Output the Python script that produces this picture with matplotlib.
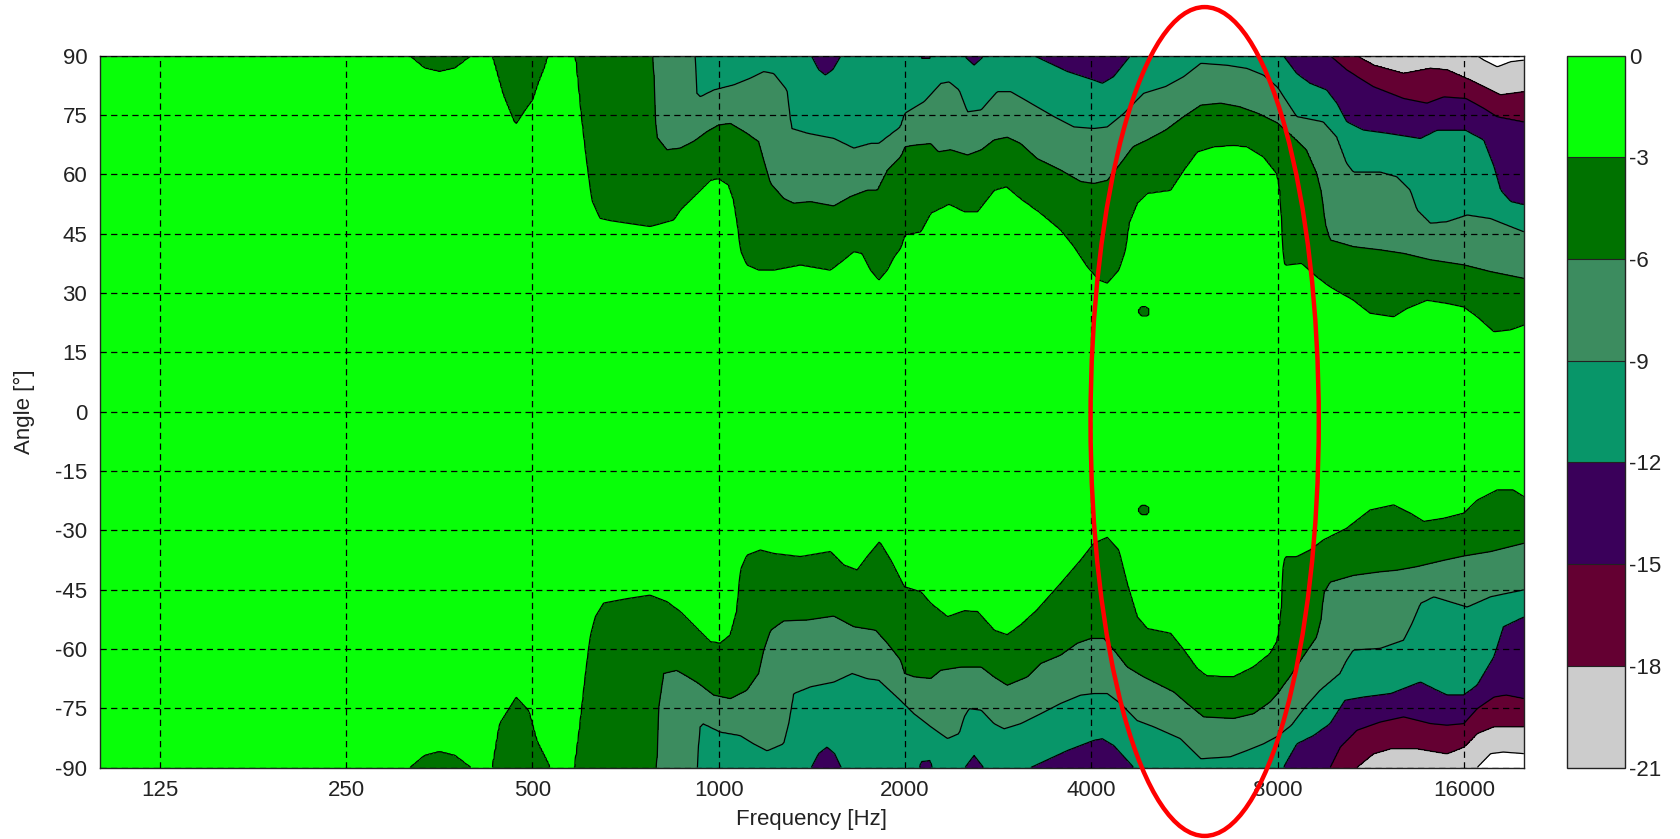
import numpy as np
import matplotlib
matplotlib.use('Agg')
import matplotlib.pyplot as plt
import matplotlib.cm as cm
from matplotlib.colors import ListedColormap, BoundaryNorm
from matplotlib.patches import Ellipse
from matplotlib.ticker import NullLocator

plt.rcParams['font.family'] = ['Liberation Sans', 'DejaVu Sans']
plt.rcParams['axes.unicode_minus'] = False

# dB levels and the fill colour of each band (lowest band first)
levels = [-21, -18, -15, -12, -9, -6, -3, 0]
band_colors = ['#cccccc', '#640032', '#3a005a', '#089669', '#3c8c5f', '#007200', '#08ff08']
below_color = '#ffffff'

freq_ticks = [125, 250, 500, 1000, 2000, 4000, 8000, 16000]
angle_ticks = list(range(-90, 91, 15))

# where each contour line lies: (frequency [Hz], angle [deg])
# an angle past +-90 means that contour does not reach the plot there
upper_3 = [(100, 96), (300, 96), (315, 90.5), (335, 87), (354, 86.1), (375, 87), (401, 90.5),
           (420, 95), (431, 90.5), (450, 80), (470, 72.7), (490, 77), (500, 78.8), (510, 83),
           (522, 87), (530, 90.5), (545, 95), (580, 95), (590, 88), (601, 74.6), (612, 63.6),
           (624, 53.5), (643, 48.9), (668, 48.3), (715, 47.6), (775, 46.8), (846, 48.5),
           (867, 51), (934, 56), (969, 58.5), (1000, 59), (1038, 57.3), (1058, 53.5),
           (1078, 45), (1084, 40.9), (1111, 37.1), (1161, 35.8), (1228, 35.8), (1356, 37.1),
           (1516, 35.8), (1593, 38.4), (1654, 40.5), (1706, 40), (1760, 35.8), (1815, 33.3),
           (1873, 35.8), (1922, 39.2), (1968, 41.3), (2000, 44.7), (2122, 45.5), (2202, 50.2),
           (2358, 52.5), (2494, 50.6), (2619, 50.6), (2787, 56), (2920, 56.9), (3076, 53.9),
           (3315, 50.2), (3569, 46), (3750, 41.8), (3941, 36.7), (4116, 33.3), (4246, 32.5),
           (4432, 35.8), (4544, 40.9), (4601, 47.6), (4744, 52.7), (4925, 55.2), (5370, 56),
           (5642, 61.1), (5929, 65.7), (6307, 67), (6793, 67.4), (7139, 67), (7594, 64.5),
           (8000, 60), (8100, 54), (8130, 46), (8170, 40), (8220, 37), (8750, 37.5),
           (9257, 34.1), (9725, 31.6), (10610, 28.2), (11290, 24.9), (12320, 24), (12950, 26.1),
           (13950, 28.2), (15030, 27.4), (16000, 26.5), (16820, 24), (17900, 20.2),
           (19040, 20.7), (20000, 21.9)]
upper_6 = [(100, 99), (770, 99), (785, 90.5), (790, 74.6), (794, 69.5), (825, 66.2), (867, 66.6),
           (911, 68.3), (957, 70.8), (1000, 72.5), (1045, 72.9), (1111, 70.4), (1161, 68.3),
           (1183, 63.6), (1213, 57.7), (1274, 53.9), (1322, 52.7), (1407, 53.1), (1535, 52),
           (1634, 54.4), (1738, 56), (1804, 56), (1873, 61.1), (1968, 64.5), (2000, 67),
           (2070, 67.4), (2202, 67.8), (2265, 65.7), (2371, 66.2), (2524, 64.9), (2657, 66.2),
           (2787, 68.7), (2926, 69.4), (3076, 67.8), (3270, 64), (3569, 61.1), (3846, 58.2),
           (4040, 57.7), (4246, 58.5), (4460, 62.8), (4673, 67), (4925, 68.7), (5275, 71.2),
           (5642, 74.6), (6015, 77.5), (6475, 78), (6945, 77.1), (7443, 75.4), (8000, 73),
           (8481, 69.5), (8915, 66.2), (9257, 60.3), (9428, 55.2), (9548, 47.6), (9725, 43.4),
           (10610, 41.7), (11720, 40.9), (12790, 40), (14130, 38.4), (16000, 37.1),
           (17680, 35.4), (20000, 33.7)]
upper_9 = [(100, 102), (905, 102), (916, 91), (922, 80.5), (934, 79.6), (982, 81.3), (1058, 82.6),
           (1125, 84.3), (1183, 86), (1228, 85.5), (1290, 81.3), (1311, 71.6), (1390, 70.4),
           (1535, 69.1), (1654, 66.6), (1760, 67.8), (1815, 67.8), (1968, 72), (2000, 75.4),
           (2149, 78.4), (2286, 83), (2358, 83.4), (2448, 81.3), (2524, 75.8), (2657, 76.3),
           (2820, 80.9), (2965, 80.9), (3193, 78), (3482, 74.6), (3750, 72), (4040, 71.6),
           (4246, 72), (4516, 75.4), (4864, 80.5), (5275, 82.2), (5642, 84.7), (6015, 88.1),
           (6630, 87.6), (7139, 86.8), (7594, 85.1), (8000, 82), (8587, 74.6), (9486, 73.3),
           (9974, 69.5), (10350, 62.8), (10610, 60.6), (11720, 60.6), (12470, 59.4),
           (13110, 56), (13440, 51), (14130, 47.6), (15030, 48), (16200, 49.7), (17680, 48.8),
           (20000, 45.5)]
upper_12 = [(100, 105), (1380, 105), (1407, 90.5), (1450, 86.5), (1488, 85.1), (1530, 86.5),
            (1583, 90.5), (1620, 95), (2100, 95), (2130, 89.3), (2200, 89.3), (2230, 95),
            (2450, 95), (2509, 89.5), (2587, 87.6), (2668, 89.5), (2720, 95), (3150, 95),
            (3233, 90), (3659, 86), (4040, 83.8), (4167, 83), (4350, 84.7), (4630, 90),
            (4700, 95), (8100, 95), (8171, 90), (8587, 85.5), (9027, 83), (9605, 81.3),
            (9974, 78), (10350, 73.3), (11010, 71.2), (12020, 70.4), (13610, 69.1),
            (14480, 71.2), (16100, 71.2), (17240, 68.7), (17900, 62), (18340, 56),
            (19040, 53.1), (20000, 52.3)]
upper_15 = [(100, 108), (9600, 108), (9725, 90), (10350, 86.4), (11430, 82.2), (12790, 79.2),
            (13950, 78), (14850, 79.6), (16130, 79.2), (17240, 76.7), (18120, 74.6), (20000, 73.3)]
upper_18 = [(100, 111), (10600, 111), (10740, 90), (11430, 87.6), (12790, 85.5), (14130, 86.8),
            (15030, 86.4), (16400, 83.8), (17240, 82.2), (18340, 80.1), (20000, 80.9)]
upper_21 = [(100, 114), (16600, 114), (16820, 90), (17240, 88.9), (18120, 87.2), (19040, 88.5),
            (20000, 88.9)]

lower_3 = [(100, -96), (300, -96), (315, -90.5), (335, -87), (354, -86), (375, -87), (401, -90.5),
           (420, -95), (431, -90.5), (443, -79), (471, -72.3), (493, -75.6), (508, -83.2),
           (530, -89), (545, -95), (575, -95), (586, -89.8), (597, -79.7), (609, -67), (620, -57),
           (632, -51.9), (652, -48.4), (711, -47.3), (775, -46.4), (825, -48.1), (867, -50.6),
           (934, -55.7), (969, -58.2), (1006, -58.6), (1045, -56.5), (1071, -50.2), (1084, -40.1),
           (1111, -36.3), (1168, -35), (1228, -35.9), (1356, -36.7), (1516, -35.4), (1593, -38.8),
           (1675, -40.1), (1738, -36.7), (1820, -32.9), (1898, -37.6), (1995, -44.3),
           (2122, -45.6), (2202, -48.5), (2344, -51.9), (2494, -50.4), (2619, -50.6),
           (2787, -55.3), (2926, -56.5), (3076, -54), (3270, -50.2), (3569, -43.5), (3845, -37.6),
           (4040, -33.3), (4246, -31.8), (4432, -35), (4572, -43.5), (4744, -51.9), (4925, -54.9),
           (5370, -56.1), (5642, -60.3), (5929, -65), (6152, -66.9), (6793, -67.1), (7318, -64.6),
           (7786, -61.2), (8000, -58), (8100, -52), (8150, -45), (8170, -38), (8250, -36.7),
           (8587, -36.7), (9027, -35), (9486, -32.5), (10350, -29.5), (11290, -24.9),
           (12320, -23.6), (13110, -25.7), (13780, -27.8), (14850, -27), (16000, -25.7),
           (16820, -22.4), (18120, -19.8), (19220, -19.8), (20000, -21.5)]
lower_6 = [(100, -99), (785, -99), (795, -90.5), (800, -75), (815, -66.2), (856, -65.4),
           (922, -68.4), (982, -71.7), (1045, -72.6), (1111, -70.5), (1161, -66.2), (1183, -60.3),
           (1213, -55.3), (1274, -52.9), (1390, -52.7), (1535, -51.7), (1654, -54.4),
           (1793, -55.3), (1873, -58.6), (1968, -62.9), (1995, -66.2), (2070, -67.1),
           (2202, -67.5), (2286, -65.4), (2462, -64.6), (2657, -64.6), (2787, -67.1),
           (2926, -69.2), (3154, -67.1), (3315, -63.7), (3569, -61.6), (3797, -58.6),
           (3990, -57.4), (4193, -57.4), (4350, -60.3), (4572, -64.6), (4864, -67.1),
           (5438, -70.9), (5713, -73.8), (6079, -77.2), (6793, -77.6), (7318, -76.4),
           (7786, -73.4), (8000, -71.3), (8375, -67.1), (8801, -62), (9257, -57), (9428, -51.9),
           (9486, -46), (9725, -43.1), (10610, -41.4), (11720, -40.5), (12470, -40.1),
           (13440, -39.2), (14850, -37.6), (16000, -36.5), (17680, -35.4), (20000, -33.3)]
lower_9 = [(100, -102), (915, -102), (925, -90.5), (930, -80), (944, -78.9), (1006, -81),
           (1084, -81.9), (1139, -84), (1198, -85.8), (1274, -84), (1298, -78.9), (1322, -71.3),
           (1407, -69.6), (1535, -68.4), (1644, -66.2), (1738, -67.5), (1815, -67.9),
           (1968, -73), (2070, -76.4), (2202, -79.7), (2344, -82.7), (2448, -81.4), (2494, -77.2),
           (2540, -75.1), (2657, -75.5), (2787, -78.9), (2892, -80.2), (3076, -78.9),
           (3315, -76.4), (3569, -73.8), (3845, -71.7), (4040, -71.3), (4246, -71.3),
           (4460, -73.8), (4744, -78.1), (5048, -79.7), (5574, -82.7), (6015, -87.8),
           (6710, -87.3), (7139, -85.7), (7594, -84), (8000, -82.1), (8430, -79.3), (8915, -74.3),
           (9369, -70.5), (10100, -66.2), (10350, -62.9), (10610, -60.3), (11720, -59.9),
           (12790, -57.8), (13190, -53.6), (13610, -48.5), (14310, -46.8), (15220, -48.1),
           (16200, -49.4), (17680, -46.8), (20000, -45.1)]
lower_12 = [(100, -105), (1380, -105), (1407, -90.5), (1450, -86.5), (1497, -84.8), (1540, -86.5),
            (1583, -90.5), (1620, -95), (2080, -95), (2122, -88.5), (2200, -88.2), (2255, -95),
            (2450, -95), (2500, -90), (2587, -86.9), (2680, -90), (2720, -95), (3150, -95),
            (3193, -90), (3659, -85.7), (4040, -83.1), (4167, -82.7), (4350, -84.4),
            (4688, -90), (4750, -95), (8100, -95), (8171, -90), (8587, -84), (9138, -81.9),
            (9725, -78.9), (10280, -73), (11010, -72.2), (12200, -71.3), (13610, -68.4),
            (14480, -70.5), (15030, -71.7), (16000, -71.7), (16820, -69.2), (17900, -62),
            (18530, -54.4), (20000, -51.9)]
lower_15 = [(100, -108), (9600, -108), (9725, -90), (10100, -84.8), (10740, -80.6), (11720, -78.5),
            (12790, -77.2), (14130, -78.9), (15030, -79.3), (16000, -78.9), (16820, -75.1),
            (17900, -72.2), (18720, -71.7), (20000, -72.6)]
lower_18 = [(100, -111), (10600, -111), (10740, -90), (11430, -86.5), (12200, -85.2),
            (13440, -85.2), (15030, -86.5), (16000, -84.8), (16820, -81.4), (17900, -79.7),
            (20000, -79.7)]
lower_21 = [(100, -114), (16600, -114), (16820, -90), (17680, -86.5), (18530, -86.1), (20000, -86.5)]

# two small -3 dB spots inside the main lobe: (frequency, angle)
islands = [(4870, 25.3), (4870, -24.9)]
island_octaves = 0.03
island_degrees = 1.3

# red ellipse marking the 4k-8k region
ellipse_freq = 6100
ellipse_angle = -2.5
ellipse_octaves = 1.225
ellipse_degrees = 209.6

# ---- build the level field from the contour positions ----
f_grid = np.logspace(np.log10(100), np.log10(20000), 900)
a_grid = np.linspace(-90, 90, 721)
band_values = [0, -3, -6, -9, -12, -15, -18, -21, -24]


def half_field(contours, theta):
    b = np.array([np.interp(np.log(f_grid), np.log([p[0] for p in c]), [abs(p[1]) for p in c])
                  for c in contours])
    for k in range(1, len(b)):
        b[k] = np.maximum(b[k], b[k - 1] + 0.3)
    z = np.empty((len(theta), len(f_grid)))
    for j in range(len(f_grid)):
        xp = np.concatenate([[0], b[:, j], [b[-1, j] + 5]])
        z[:, j] = np.interp(theta, xp, band_values)
    return z


lower = a_grid < 0
z_lo = half_field([lower_3, lower_6, lower_9, lower_12, lower_15, lower_18, lower_21], -a_grid[lower])
z_up = half_field([upper_3, upper_6, upper_9, upper_12, upper_15, upper_18, upper_21], a_grid[~lower])
Z = np.vstack([z_lo, z_up])

F, A = np.meshgrid(f_grid, a_grid)
for fi, ai in islands:
    spot = (np.log2(F / fi) / island_octaves) ** 2 + ((A - ai) / island_degrees) ** 2 < 1
    Z[spot] = np.minimum(Z[spot], -3.4)

# ---- figure ----
fig = plt.figure(figsize=(16.81, 8.39), dpi=100)
ax = fig.add_axes([0.0593, 0.0852, 0.8472, 0.8484])
cax = fig.add_axes([0.9322, 0.0852, 0.0345, 0.8484])

ax.contourf(f_grid, a_grid, Z, levels=[-30] + levels[:-1] + [0.5],
            colors=[below_color] + band_colors, zorder=1)
ax.contour(f_grid, a_grid, Z, levels=levels[:-1], colors='k', linewidths=0.9,
           linestyles='solid', zorder=2)

ax.set_xscale('log')
ax.set_xlim(100, 20000)
ax.set_ylim(-90, 90)
ax.set_xticks(freq_ticks)
ax.set_xticklabels([str(v) for v in freq_ticks])
ax.xaxis.set_minor_locator(NullLocator())
ax.set_yticks(angle_ticks)
ax.set_yticklabels([str(v) for v in angle_ticks])
ax.tick_params(labelsize=16, length=0, pad=9, colors='#222222')
ax.set_axisbelow(False)
ax.grid(True, color='k', linestyle=(0, (5, 3.5)), linewidth=0.9)
ax.set_xlabel('Frequency [Hz]', fontsize=16, color='#222222', labelpad=6)
ax.set_ylabel('Angle [°]', fontsize=16, color='#222222', labelpad=14)
for s in ax.spines.values():
    s.set_color('#222222')
    s.set_linewidth(1.0)

# ellipse placed through the data transform
cx, cy = ax.transAxes.inverted().transform(ax.transData.transform((ellipse_freq, ellipse_angle)))
w = ellipse_octaves * np.log(2) / np.log(20000 / 100)
h = ellipse_degrees / 180
ax.add_patch(Ellipse((cx, cy), w, h, transform=ax.transAxes, fill=False,
                     edgecolor='#ff0000', linewidth=3.2, clip_on=False, zorder=5))

cmap = ListedColormap(band_colors)
norm = BoundaryNorm(levels, cmap.N)
cb = fig.colorbar(cm.ScalarMappable(norm=norm, cmap=cmap), cax=cax, ticks=levels, drawedges=True)
cb.set_ticklabels([str(v) for v in levels])
cb.ax.tick_params(labelsize=16, length=0, pad=3, colors='#222222')
cb.outline.set_edgecolor('#222222')
cb.outline.set_linewidth(1.0)
cb.dividers.set_color('#222222')
cb.dividers.set_linewidth(0.8)

fig.savefig('out.png', dpi=100)
